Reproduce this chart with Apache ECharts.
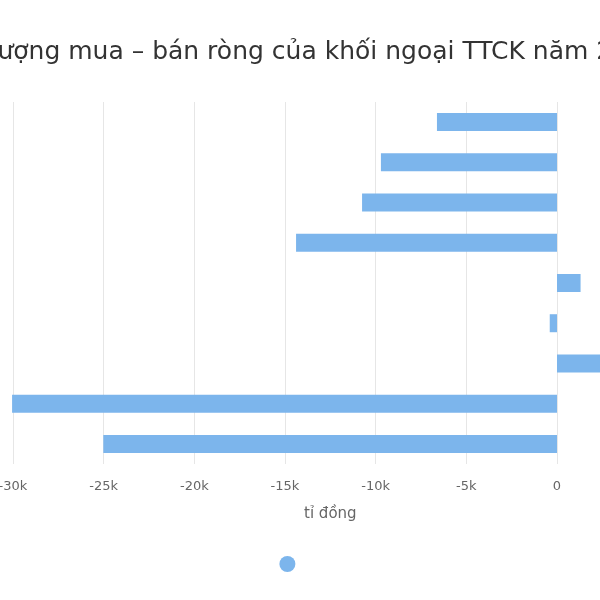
<!DOCTYPE html>
<html>
<head>
<meta charset="utf-8">
<script src="https://cdn.jsdelivr.net/npm/echarts@6/dist/echarts.min.js"></script>
<style>html,body{margin:0;padding:0;background:#fff}#chart{width:600px;height:600px}</style>
</head>
<body>
<div id="chart"></div>
<script>
const titleText = 'Lượng mua – bán ròng của khối ngoại TTCK năm 2008 - 2016';
const categories = ['2008', '2009', '2010', '2011', '2012', '2013', '2014', '2015', '2016'];
const netValues = [-6620, -9710, -10750, -14390, 1300, -400, 3000, -30050, -25020];
const axisName = 'tỉ đồng';

const chart = echarts.init(document.getElementById('chart'));
chart.setOption({
  animation: false,
  graphic: [{
    type: 'text', left: -16.5, top: 40,
    style: { text: titleText, font: '25px "DejaVu Sans"', fill: '#333' }
  }],
  legend: {
    left: 274.4, top: 551, itemWidth: 16, itemHeight: 16, icon: 'circle',
    formatter: () => '', data: [{ name: 'Giá trị' }]
  },
  grid: { left: -77.67, right: -138.33, top: 102, bottom: 136, outerBoundsMode: 'none', containLabel: false },
  xAxis: {
    type: 'value', min: -35000, max: 10000, interval: 5000,
    name: axisName, nameLocation: 'middle', nameGap: 43,
    nameTextStyle: { color: '#666', fontSize: 15, fontFamily: 'DejaVu Sans' },
    axisLine: { show: false }, axisTick: { show: false },
    axisLabel: { color: '#666', fontSize: 13, fontFamily: 'DejaVu Sans', margin: 16,
      formatter: v => v === 0 ? '0' : (v / 1000) + 'k' },
    splitLine: { lineStyle: { color: '#e6e6e6', width: 1 } }
  },
  yAxis: {
    type: 'category', data: categories, inverse: true,
    axisLine: { show: false }, axisTick: { show: false },
    axisLabel: { color: '#666' }
  },
  series: [{
    name: 'Giá trị', type: 'bar', data: netValues, barWidth: 18,
    itemStyle: { color: '#7cb5ec' }
  }]
});
</script>
</body>
</html>
